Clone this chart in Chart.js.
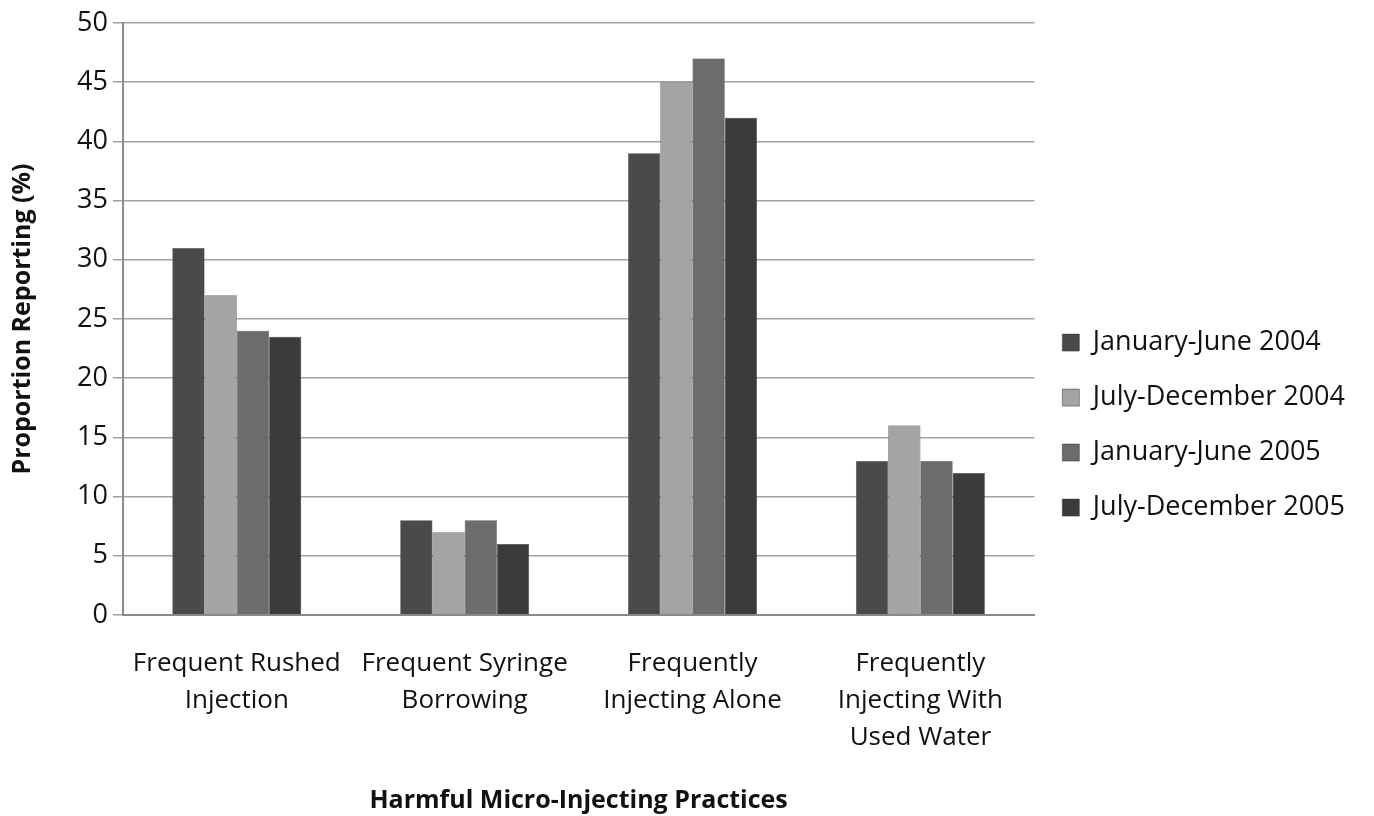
<!DOCTYPE html>
<html>
<head>
<meta charset="utf-8">
<script src="https://cdn.jsdelivr.net/npm/chart.js@4.4.1/dist/chart.umd.min.js"></script>
<style>
  html, body { margin: 0; padding: 0; background: #fff; }
  #wrap { width: 1374px; height: 816px; position: relative; }
</style>
</head>
<body>
<div id="wrap"><canvas id="chart"></canvas></div>
<script>
// categories on the x axis
const categories = [
  ["Frequent Rushed", "Injection"],
  ["Frequent Syringe", "Borrowing"],
  ["Frequently", "Injecting Alone"],
  ["Frequently", "Injecting With", "Used Water"],
];

const seriesNames = [
  "January-June 2004",
  "July-December 2004",
  "January-June 2005",
  "July-December 2005",
];

// values (%)
const janJun2004 = [31, 8, 39, 13];
const julDec2004 = [27, 7, 45, 16];
const janJun2005 = [24, 8, 47, 13];
const julDec2005 = [23.5, 6, 42, 12];

const seriesColors = ["#4a4a4a", "#a4a4a4", "#6c6c6c", "#3b3b3b"];

const yTicks = [0, 5, 10, 15, 20, 25, 30, 35, 40, 45, 50];

const FONT = "'Open Sans', sans-serif";

const ctx = document.getElementById("chart").getContext("2d");

const allValues = [janJun2004, julDec2004, janJun2005, julDec2005];

const chart = new Chart(ctx, {
  type: "bar",
  data: {
    labels: categories,
    datasets: seriesNames.map((name, i) => ({
      label: name,
      data: allValues[i],
      backgroundColor: seriesColors[i],
      borderColor: "#333",
      borderWidth: 0.5,
      categoryPercentage: 0.566,
      barPercentage: 1.0,
    })),
  },
  options: {
    responsive: true,
    maintainAspectRatio: false,
    animation: false,
    layout: {
      padding: { top: 23, right: 19, bottom: 0, left: 8 },
    },
    plugins: {
      legend: {
        position: "right",
        // empty title just pushes the items down a little
        title: { display: true, text: " ", font: { size: 6 }, padding: 2 },
        labels: {
          boxWidth: 17,
          boxHeight: 17,
          padding: 28,
          color: "#111",
          font: { family: FONT, size: 27 },
        },
      },
      tooltip: { enabled: false },
    },
    scales: {
      x: {
        grid: { display: false, drawTicks: false },
        border: { display: true, color: "#8a8a8a", width: 2 },
        ticks: {
          color: "#111",
          padding: 30,
          maxRotation: 0,
          autoSkip: false,
          font: { family: FONT, size: 26, lineHeight: 1.423 },
        },
        title: {
          display: true,
          text: "Harmful Micro-Injecting Practices",
          color: "#111",
          font: { family: FONT, size: 25, weight: "bold" },
          padding: { top: 0, bottom: 0 },
        },
      },
      y: {
        min: 0,
        max: 50,
        afterBuildTicks: (axis) => {
          axis.ticks = yTicks.map((v) => ({ value: v }));
        },
        grid: {
          color: "#a3a3a3",
          lineWidth: 1.5,
          tickLength: 10,
        },
        border: { display: true, color: "#8a8a8a", width: 2 },
        ticks: {
          color: "#111",
          padding: 5,
          font: { family: FONT, size: 27 },
        },
        title: {
          display: true,
          text: "Proportion Reporting (%)",
          color: "#111",
          font: { family: FONT, size: 25, weight: "bold" },
          padding: { top: 0, bottom: 34 },
        },
      },
    },
  },
});
</script>
</body>
</html>
